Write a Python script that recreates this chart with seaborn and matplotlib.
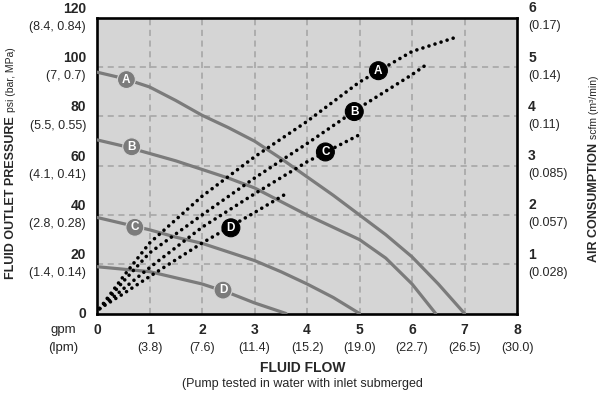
import matplotlib
matplotlib.use("Agg")
import matplotlib.pyplot as plt
import seaborn as sns
import pandas as pd

# ---------------- data ----------------
# pump curves: fluid outlet pressure (psi) vs fluid flow (gpm)
pump_a_gpm = [0, 0.5, 1, 1.5, 2, 2.5, 3, 3.5, 4, 4.5, 5, 5.5, 6, 6.5, 7]
pump_a_psi = [98, 95.5, 92, 86.5, 80.5, 75.5, 70, 63, 55.5, 48, 40, 32, 23, 12, 0]
pump_b_gpm = [0, 0.5, 1, 1.5, 2, 2.5, 3, 3.5, 4, 4.5, 5, 5.5, 6, 6.45]
pump_b_psi = [70.5, 68, 65, 62, 58.5, 55, 51, 45.5, 40, 35, 30, 22.5, 12, 0]
pump_c_gpm = [0, 0.5, 1, 1.5, 2, 2.5, 3, 3.5, 4, 4.5, 5]
pump_c_psi = [39, 36.5, 34, 31, 28.5, 25, 21.5, 17, 12, 6.5, 0]
pump_d_gpm = [0, 0.5, 1, 1.5, 2, 2.5, 3, 3.6]
pump_d_psi = [19, 18, 17, 14.5, 12, 8.5, 4.3, 0]

# air consumption curves (scfm) vs fluid flow (gpm)
air_a_gpm = [0.05, 0.5, 1, 2, 3, 4, 5, 6, 6.87]
air_a_scfm = [0.1, 0.75, 1.43, 2.38, 3.18, 3.9, 4.7, 5.32, 5.62]
air_b_gpm = [0.05, 0.5, 1, 2, 3, 4, 5, 6, 6.27]
air_b_scfm = [0.1, 0.65, 1.23, 2.0, 2.75, 3.45, 4.18, 4.85, 5.05]
air_c_gpm = [0.05, 0.5, 1, 2, 3, 4, 5]
air_c_scfm = [0.1, 0.5, 0.93, 1.75, 2.43, 3.08, 3.63]
air_d_gpm = [0.05, 0.5, 1, 2, 3, 3.63]
air_d_scfm = [0.1, 0.4, 0.75, 1.43, 2.05, 2.45]

curve_names = ["A", "B", "C", "D"]
pump_label_pos = {"A": (0.56, 95), "B": (0.66, 67.7), "C": (0.72, 35), "D": (2.4, 9.5)}
air_label_pos = {"A": (5.36, 4.93), "B": (4.9, 4.1), "C": (4.35, 3.28), "D": (2.55, 1.74)}

gpm_ticks = [0, 1, 2, 3, 4, 5, 6, 7, 8]
lpm_labels = ["", "(3.8)", "(7.6)", "(11.4)", "(15.2)", "(19.0)", "(22.7)", "(26.5)", "(30.0)"]
psi_ticks = [0, 20, 40, 60, 80, 100, 120]
bar_mpa_labels = ["", "(1.4, 0.14)", "(2.8, 0.28)", "(4.1, 0.41)", "(5.5, 0.55)", "(7, 0.7)", "(8.4, 0.84)"]
scfm_ticks = [1, 2, 3, 4, 5, 6]
m3min_labels = ["(0.028)", "(0.057)", "(0.085)", "(0.11)", "(0.14)", "(0.17)"]

# ---------------- style ----------------
sns.set_style("white")
FONT = ["Liberation Sans", "DejaVu Sans"]
plt.rcParams["font.family"] = FONT

BG = "#d5d5d5"
GRID = "#a3a3a3"
PUMP = "#7b7b7b"

W, H = 600, 398
fig = plt.figure(figsize=(W / 100, H / 100), dpi=100)
ax = fig.add_axes([0.1617, 0.2123, 0.7, 0.7425])
ax.set_facecolor(BG)
ax.set_xlim(0, 8)
ax.set_ylim(0, 120)

# grid
for g in gpm_ticks[1:-1]:
    ax.axvline(g, color=GRID, lw=1.1, ls=(0, (4, 3)), zorder=1)
for p in psi_ticks[1:-1]:
    ax.axhline(p, color=GRID, lw=1.1, ls=(0, (4, 3)), zorder=1)

pump = [(pump_a_gpm, pump_a_psi), (pump_b_gpm, pump_b_psi),
        (pump_c_gpm, pump_c_psi), (pump_d_gpm, pump_d_psi)]
for name, (xs, ys) in zip(curve_names, pump):
    df = pd.DataFrame({"gpm": xs, "psi": ys})
    sns.lineplot(data=df, x="gpm", y="psi", ax=ax, color=PUMP, lw=2.3,
                 sort=False, estimator=None, zorder=3)
    lx, ly = pump_label_pos[name]
    ax.text(lx, ly, name, ha="center", va="center", color="white", fontsize=8.5,
            fontweight="bold", zorder=6,
            bbox=dict(boxstyle="circle,pad=0.25", fc=PUMP, ec=BG, lw=0.8))

ax.set_xticks([])
ax.set_yticks([])
ax.set_xlabel("")
ax.set_ylabel("")
for s in ax.spines.values():
    s.set_visible(True)
    s.set_color("black")
    s.set_linewidth(1.9)

ax2 = ax.twinx()
ax2.set_ylim(0, 6)
air = [(air_a_gpm, air_a_scfm), (air_b_gpm, air_b_scfm),
       (air_c_gpm, air_c_scfm), (air_d_gpm, air_d_scfm)]
for name, (xs, ys) in zip(curve_names, air):
    df = pd.DataFrame({"gpm": xs, "scfm": ys})
    sns.lineplot(data=df, x="gpm", y="scfm", ax=ax2, color="black", lw=2.6,
                 sort=False, estimator=None, zorder=4)
    line = ax2.get_lines()[-1]
    line.set_linestyle((0, (0.01, 1.75)))
    line.set_dash_capstyle("round")
    lx, ly = air_label_pos[name]
    ax2.text(lx, ly, name, ha="center", va="center", color="white", fontsize=8.5,
             fontweight="bold", zorder=7,
             bbox=dict(boxstyle="circle,pad=0.25", fc="black", ec="black", lw=0.8))
ax2.set_yticks([])
ax2.set_ylabel("")
ax2.set_xlabel("")
for s in ax2.spines.values():
    s.set_visible(False)

# ---------------- tick texts ----------------
ytr = ax.get_yaxis_transform()
for v, lab in zip(psi_ticks, bar_mpa_labels):
    if lab:
        ax.annotate(str(v), xy=(0, v), xycoords=ytr, xytext=(-8, 6.5),
                    textcoords="offset points", ha="right", va="center",
                    fontsize=10, fontweight="bold")
        ax.annotate(lab, xy=(0, v), xycoords=ytr, xytext=(-8, -6.5),
                    textcoords="offset points", ha="right", va="center",
                    fontsize=9)
    else:
        ax.annotate(str(v), xy=(0, v), xycoords=ytr, xytext=(-8, 0),
                    textcoords="offset points", ha="right", va="center",
                    fontsize=10, fontweight="bold")

ytr2 = ax2.get_yaxis_transform()
for v, lab in zip(scfm_ticks, m3min_labels):
    ax2.annotate(str(v), xy=(1, v), xycoords=ytr2, xytext=(8, 7),
                 textcoords="offset points", ha="left", va="center",
                 fontsize=10, fontweight="bold")
    ax2.annotate(lab, xy=(1, v), xycoords=ytr2, xytext=(8, -6),
                 textcoords="offset points", ha="left", va="center",
                 fontsize=9)

xtr = ax.get_xaxis_transform()
for v, lab in zip(gpm_ticks, lpm_labels):
    ax.annotate(str(v), xy=(v, 0), xycoords=xtr, xytext=(0, -12),
                textcoords="offset points", ha="center", va="center",
                fontsize=10, fontweight="bold")
    if lab:
        ax.annotate(lab, xy=(v, 0), xycoords=xtr, xytext=(0, -24.5),
                    textcoords="offset points", ha="center", va="center",
                    fontsize=9)
ax.annotate("gpm", xy=(0, 0), xycoords="axes fraction", xytext=(-24, -12),
            textcoords="offset points", ha="center", va="center", fontsize=9.5)
ax.annotate("(lpm)", xy=(0, 0), xycoords="axes fraction", xytext=(-24, -24.5),
            textcoords="offset points", ha="center", va="center", fontsize=9.5)

# ---------------- axis titles ----------------
fig.text(303 / W, 1 - 368 / H, "FLUID FLOW", ha="center", va="center",
         fontsize=10, fontweight="bold")
fig.text(302 / W, 1 - 384 / H, "(Pump tested in water with inlet submerged",
         ha="center", va="center", fontsize=9)

renderer = fig.canvas.get_renderer()


def vertical_title(x_base_px, center_px, bold_txt, small_txt):
    """Rotated title: bold part followed by a smaller normal part on one baseline."""
    kw = dict(rotation=90, rotation_mode="anchor", ha="left", va="baseline")
    t1 = fig.text(x_base_px / W, 0.5, bold_txt, fontsize=9, fontweight="bold", **kw)
    t2 = fig.text(x_base_px / W, 0.5, small_txt, fontsize=7.5, **kw)
    l1 = t1.get_window_extent(renderer).height
    l2 = t2.get_window_extent(renderer).height
    gap = 4
    total = l1 + gap + l2
    start = (H - center_px) - total / 2  # from bottom, in pixels
    t1.set_y(start / H)
    t2.set_y((start + l1 + gap) / H)


vertical_title(14, 163, "FLUID OUTLET PRESSURE", "psi (bar, MPa)")
vertical_title(597, 169, "AIR CONSUMPTION", "scfm (m³/min)")

fig.savefig("out.png", dpi=100, facecolor="white")
